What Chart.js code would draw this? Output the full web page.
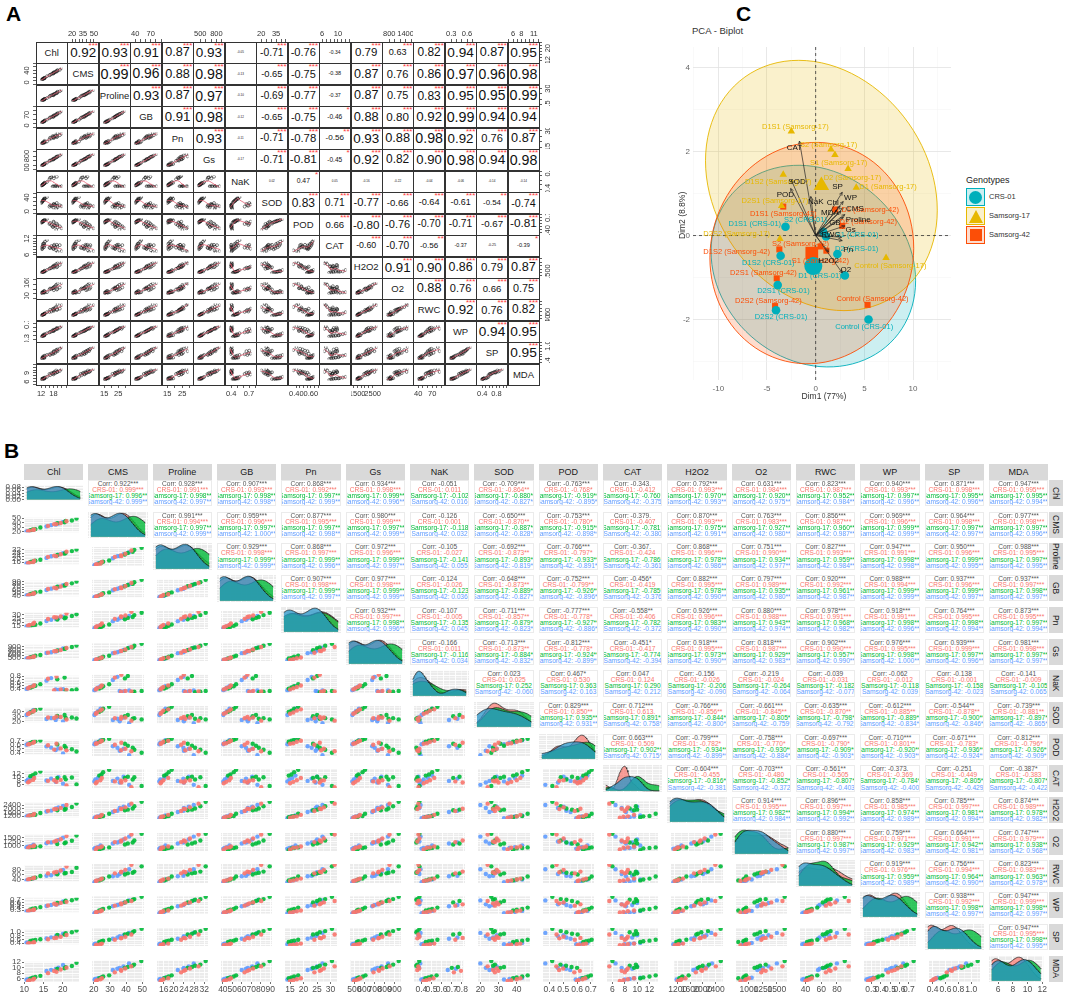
<!DOCTYPE html>
<html>
<head>
<meta charset="utf-8">
<title>Trait correlations and PCA biplot</title>
<script src="https://cdn.jsdelivr.net/npm/chart.js@4.4.1/dist/chart.umd.min.js"></script>
<style>
  html, body { margin: 0; padding: 0; background: #fff; }
  #page { position: relative; width: 1065px; height: 997px; overflow: hidden;
          font-family: "Liberation Sans", Arial, Helvetica, sans-serif; color: #222; }
  #page canvas { position: absolute; }
  .box { position: absolute; box-sizing: border-box; white-space: nowrap; line-height: 1; }
</style>
</head>
<body>
<div id="page"></div>
<script>
// ---- data ----
const traitNames = ['Chl', 'CMS', 'Proline', 'GB', 'Pn', 'Gs', 'NaK', 'SOD', 'POD', 'CAT', 'H2O2', 'O2', 'RWC', 'WP', 'SP', 'MDA'];
const genotypes = ['CRS-01', 'Samsorg-17', 'Samsorg-42'];
const treatments = ['Control', 'S1', 'S2', 'D1', 'D2', 'D1S1', 'D1S2', 'D2S1', 'D2S2'];

// samples: CRS-01 x 9 treatments, then Samsorg-17, then Samsorg-42
const chl     = [21.0, 18.4, 16.2, 19.5, 17.8, 12.6, 12.3, 11.4, 11.0,  23.6, 20.5, 18.6, 22.4, 20.8, 14.2, 12.9, 12.2, 11.6,  20.1, 17.0, 15.8, 18.9, 18.2, 12.4, 11.7, 11.0, 10.6];
const cms     = [43.2, 37.0, 33.0, 39.5, 36.8, 25.0, 24.1, 22.0, 21.3,  49.5, 41.0, 39.2, 45.0, 44.0, 29.5, 25.8, 24.8, 23.4,  41.8, 34.6, 31.8, 38.4, 36.0, 24.2, 22.6, 21.0, 20.4];
const proline = [29.8, 24.0, 22.9, 26.4, 24.6, 17.8, 15.9, 15.2, 14.8,  32.6, 27.2, 25.5, 30.5, 28.4, 19.2, 18.0, 17.1, 16.2,  27.9, 23.8, 21.6, 25.9, 24.0, 16.7, 16.2, 14.7, 14.3];
const gb      = [80.5, 66.0, 63.0, 72.0, 68.0, 48.5, 46.8, 43.5, 41.0,  89.5, 75.0, 71.5, 83.0, 78.0, 54.0, 51.5, 48.0, 45.5,  76.5, 64.5, 60.0, 71.0, 66.5, 47.0, 44.2, 42.0, 40.5];
const pn      = [31.5, 26.0, 24.0, 27.5, 26.5, 19.0, 17.5, 16.2, 15.0,  30.5, 25.0, 23.5, 28.0, 26.0, 18.0, 16.5, 15.5, 14.5,  27.0, 23.0, 21.5, 25.0, 24.5, 17.0, 15.8, 14.8, 14.0];
const gs      = [850, 745, 690, 780, 740, 560, 540, 515, 495,  940, 820, 765, 885, 840, 610, 585, 545, 530,  835, 705, 680, 770, 730, 550, 520, 500, 485];
const nak     = [0.37, 0.79, 0.72, 0.38, 0.36, 0.52, 0.48, 0.45, 0.42,  0.38, 0.76, 0.70, 0.36, 0.35, 0.55, 0.50, 0.47, 0.44,  0.39, 0.74, 0.66, 0.37, 0.38, 0.50, 0.46, 0.42, 0.40];
const sod     = [24, 30, 28, 29, 27, 42, 40, 37, 35,  26, 33, 31, 28, 27, 46, 43, 40, 38,  20, 27, 25, 29, 23, 43, 39, 36, 33];
const pod     = [0.45, 0.62, 0.58, 0.50, 0.47, 0.66, 0.64, 0.61, 0.60,  0.42, 0.56, 0.60, 0.48, 0.52, 0.70, 0.68, 0.66, 0.64,  0.37, 0.52, 0.55, 0.50, 0.46, 0.67, 0.63, 0.62, 0.59];
const cat     = [5.5, 7.5, 8.0, 8.5, 8.3, 9.5, 8.5, 7.8, 7.2,  6.0, 10.0, 9.5, 9.8, 8.8, 13.0, 12.0, 11.0, 10.5,  6.5, 9.2, 8.2, 10.0, 7.5, 10.5, 9.5, 8.8, 8.0];
const h2o2    = [2420, 1980, 1780, 2100, 1950, 1450, 1320, 1280, 1200,  2580, 1900, 1850, 2200, 2000, 1550, 1350, 1320, 1250,  2300, 1800, 1700, 2150, 2050, 1400, 1300, 1250, 1160];
const o2      = [1600, 1300, 1220, 1400, 1250, 1000, 950, 930, 850,  1640, 1150, 1100, 1300, 1200, 950, 920, 900, 810,  1500, 1200, 1150, 1350, 1250, 1050, 960, 920, 890];
const rwc     = [95, 72, 66, 78, 70, 48, 45, 42, 40,  90, 66, 62, 72, 68, 55, 48, 45, 42,  80, 58, 56, 70, 64, 45, 42, 38, 36];
const wp      = [0.62, 0.52, 0.48, 0.58, 0.55, 0.33, 0.31, 0.29, 0.27,  0.75, 0.62, 0.58, 0.68, 0.66, 0.42, 0.38, 0.36, 0.33,  0.64, 0.50, 0.46, 0.56, 0.52, 0.32, 0.29, 0.27, 0.25];
const sp      = [0.85, 0.70, 0.62, 0.75, 0.68, 0.45, 0.42, 0.40, 0.38,  1.10, 0.88, 0.85, 1.00, 0.95, 0.62, 0.58, 0.55, 0.52,  0.92, 0.72, 0.66, 0.82, 0.78, 0.48, 0.46, 0.44, 0.42];
const mda     = [10.0, 8.5, 8.0, 9.3, 8.8, 6.0, 5.7, 5.4, 5.1,  11.8, 9.8, 9.5, 10.6, 10.2, 7.0, 6.6, 6.3, 6.0,  11.0, 9.2, 8.8, 10.0, 9.5, 6.2, 6.0, 5.8, 5.6];

// overall Pearson r (upper triangle, row by row)
const corrUpper = [
  [0.922, 0.928, 0.907, 0.868, 0.934, -0.051, -0.709, -0.763, -0.343, 0.792, 0.631, 0.823, 0.940, 0.871, 0.947],
  [0.991, 0.959, 0.877, 0.980, -0.126, -0.650, -0.753, -0.379, 0.870, 0.763, 0.856, 0.969, 0.964, 0.977],
  [0.929, 0.868, 0.972, -0.105, -0.692, -0.766, -0.367, 0.868, 0.751, 0.827, 0.947, 0.950, 0.988],
  [0.907, 0.977, -0.124, -0.648, -0.752, -0.456, 0.882, 0.797, 0.920, 0.988, 0.937, 0.937],
  [0.932, -0.107, -0.711, -0.777, -0.558, 0.926, 0.880, 0.978, 0.918, 0.764, 0.873],
  [-0.166, -0.713, -0.812, -0.451, 0.918, 0.818, 0.902, 0.976, 0.939, 0.981],
  [0.023, 0.467, 0.047, -0.156, -0.219, -0.039, -0.062, -0.138, -0.141],
  [0.829, 0.712, -0.766, -0.661, -0.635, -0.612, -0.544, -0.739],
  [0.663, -0.799, -0.758, -0.697, -0.710, -0.671, -0.812],
  [-0.604, -0.703, -0.561, -0.373, -0.251, -0.387],
  [0.914, 0.896, 0.858, 0.785, 0.874],
  [0.880, 0.759, 0.664, 0.747],
  [0.919, 0.756, 0.823],
  [0.938, 0.947],
  [0.947]
];

// PCA scores (same sample order) and variable loadings
const pcaDim1 = [5.43, 1.07, 0.77, 3.00, 2.23, -3.10, -3.60, -3.90, -4.07,  7.23, 1.98, 1.57, 4.17, 3.33, -2.50, -3.33, -3.50, -3.67,  5.33, 1.10, 0.50, 2.00, 2.73, -3.33, -3.73, -4.00, -4.17];
const pcaDim2 = [-2.00, -0.02, 0.09, -0.95, -0.44, 0.21, -0.48, -1.18, -1.78,  -0.53, 1.92, 2.05, 1.14, 1.59, 2.48, 1.45, 0.71, -0.08,  -1.65, -0.36, -0.26, 0.62, 0.23, 0.69, -0.33, -1.02, -1.68];
const loadDim1 = [2.50, 2.83, 3.00, 2.83, 2.73, 3.00, -0.50, -2.50, -2.57, -1.67, 1.33, 2.73, 2.67, 2.83, 2.73, 2.60];
const loadDim2 = [0.70, 0.66, 0.50, 0.43, -0.12, 0.23, 0.93, 1.32, 1.12, 2.25, -0.39, -0.89, -0.04, 0.81, 1.03, 0.58];

// tick settings
const aTickStep = [2, 5, 5, 10, 5, 100, 0.1, 5, 0.05, 1, 250, 200, 10, 0.1, 0.1, 1];
const aLabelsH = [['12', '18'], ['20', '35', '50'], ['15', '25'], ['40', '70'], ['15', '25'], ['500', '800'], ['0.4', '0.7'], ['20', '35'],
                  ['0.40', '0.60'], ['6', '10'], ['1500', '2500'], ['800', '1400'], ['40', '70'], ['0.3', '0.6'], ['0.4', '0.8'], ['6', '8', '11']];
const aLabelsV = [['12', '20'], ['20', '40'], ['15', '30'], ['40', '70'], ['15', '30'], ['500', '800'], ['0.4', '0.8'], ['20', '40'],
                  ['0.40', '0.70'], ['6', '12'], ['1500'], ['800', '1600'], ['40', '60'], ['0.3', '0.7'], ['0.4', '1.0'], ['6', '9']];
const bTickStep = [5, 10, 4, 10, 5, 100, 0.1, 10, 0.1, 2, 400, 250, 20, 0.1, 0.2, 2];

// ---- layout / styles ----
const FONT = "'Liberation Sans', Arial, sans-serif";
const A = { x0: 36, y0: 42, cw: 31.45, ch: 21.45, ax: 17 };
const B = { x0: 24, y0: 480, px: 64.33, py: 31.7, w: 59.3, h: 26.4, yAxis: 24, xAxis: 14 };
const bColors = ['#F8766D', '#00BA38', '#619CFF'];
const densFill = ['rgba(248,118,109,0.7)', 'rgba(0,186,56,0.8)', 'rgba(40,150,200,0.75)'];
const pcaColors = ['#00AFBB', '#E7B800', '#FC4E07'];
const pcaShapes = ['circle', 'triangle', 'rect'];
const indLabelDx = [-4.3, 31, -17.7, -25, 19.3, -30.7, -12.3, 5.7, 5,  4.3, 3.7, -2.3, 31.7, 4.3, 4, -5, -6.7, -43.3,  5, -6, -20, 35, 26, 0, -42.7, -13.3, -6.7];
const indLabelDy = [7.3, -1.3, -11.7, 0, -4.7, -2.7, 7, 6, 6.7,  8, 7.7, -4.3, -0.3, 8.7, -4.3, 7.3, -5, -5,  -6, 10, -2.7, 0, -4, 7, 2.7, -5, -4.7];
const varLabelDx = [-7.3, 11.7, 13.3, -8.3, 6, 5.7, 5, 5.7, -5.3, -5, 0, 3.7, -11, 7.3, -4.7, -11];
const varLabelDy = [-3.3, 0.7, 5.7, 5, 9.3, 4.3, 5, 1.7, 6.7, 6.7, 9, -3.3, -2.3, -3.3, -5.7, 1.7];

const traits = [chl, cms, proline, gb, pn, gs, nak, sod, pod, cat, h2o2, o2, rwc, wp, sp, mda];
const NV = traits.length;
const groupIdx = g => treatments.map((t, k) => g * treatments.length + k);

Chart.defaults.animation = false;
Chart.defaults.responsive = false;
Chart.defaults.events = [];
Chart.defaults.plugins.legend.display = false;
Chart.defaults.plugins.tooltip.enabled = false;
Chart.defaults.font.family = FONT;

const page = document.getElementById('page');

function addCanvas(x, y, w, h) {
  const l = Math.round(x), t = Math.round(y);
  const cw = Math.round(x + w) - l, ch = Math.round(y + h) - t;
  const c = document.createElement('canvas');
  c.width = cw; c.height = ch;
  c.style.left = l + 'px'; c.style.top = t + 'px';
  c.style.width = cw + 'px'; c.style.height = ch + 'px';
  page.appendChild(c);
  return c;
}

function addBox(x, y, w, h, css, html) {
  const d = document.createElement('div');
  d.className = 'box';
  d.style.cssText = `left:${x}px;top:${y}px;width:${w}px;height:${h}px;` + (css || '');
  if (html != null) d.innerHTML = html;
  page.appendChild(d);
  return d;
}

// ---- small stats helpers ----
const mean = a => a.reduce((s, v) => s + v, 0) / a.length;
function sdev(a) { const m = mean(a); return Math.sqrt(a.reduce((s, v) => s + (v - m) ** 2, 0) / (a.length - 1)); }
function pearson(x, y) {
  const mx = mean(x), my = mean(y);
  let sxy = 0, sxx = 0, syy = 0;
  for (let k = 0; k < x.length; k++) { sxy += (x[k] - mx) * (y[k] - my); sxx += (x[k] - mx) ** 2; syy += (y[k] - my) ** 2; }
  return sxy / Math.sqrt(sxx * syy);
}
function padRange(a, f) { const mn = Math.min(...a), mx = Math.max(...a), p = (mx - mn) * f; return [mn - p, mx + p]; }
function quantile(sorted, p) {
  const h = (sorted.length - 1) * p, lo = Math.floor(h);
  const hi = Math.min(lo + 1, sorted.length - 1);
  return sorted[lo] + (h - lo) * (sorted[hi] - sorted[lo]);
}
function kde(vals, grid) {
  const s = [...vals].sort((a, b) => a - b);
  const iqr = quantile(s, 0.75) - quantile(s, 0.25);
  const bw = 0.9 * Math.min(sdev(vals), iqr / 1.34 || sdev(vals)) * Math.pow(vals.length, -0.2);
  return grid.map(g => ({ x: g, y: vals.reduce((t, v) => t + Math.exp(-0.5 * ((g - v) / bw) ** 2), 0) / (vals.length * bw * Math.sqrt(2 * Math.PI)) }));
}
function lowess(xs, ys, f) {
  const order = xs.map((_, k) => k).sort((a, b) => xs[a] - xs[b]);
  const x = order.map(k => xs[k]), y = order.map(k => ys[k]);
  const n = x.length, r = Math.ceil(f * n);
  return x.map(x0 => {
    const d = x.map(v => Math.abs(v - x0));
    const h = Math.max([...d].sort((a, b) => a - b)[r - 1], 1e-9) * 1.0001;
    let sw = 0, sx = 0, sy = 0, sxx = 0, sxy = 0;
    for (let k = 0; k < n; k++) {
      const u = d[k] / h;
      if (u >= 1) continue;
      const w = Math.pow(1 - u * u * u, 3);
      sw += w; sx += w * x[k]; sy += w * y[k]; sxx += w * x[k] * x[k]; sxy += w * x[k] * y[k];
    }
    const mx = sx / sw, my = sy / sw, vx = sxx / sw - mx * mx;
    const b = vx > 1e-12 ? (sxy / sw - mx * my) / vx : 0;
    return { x: x0, y: my + b * (x0 - mx) };
  });
}
// significance marks (critical |r| for p < .001, .01, .05, .1)
const critR = { 27: [0.597, 0.487, 0.381, 0.323], 9: [0.898, 0.798, 0.666, 0.582] };
function stars(r, n, withDot) {
  const a = Math.abs(r), c = critR[n];
  if (a >= c[0]) return '***';
  if (a >= c[1]) return '**';
  if (a >= c[2]) return '*';
  if (withDot && a >= c[3]) return '.';
  return '';
}
function stepTicks(min, max, step) {
  const out = [];
  const k0 = Math.ceil(min / step - 1e-9), k1 = Math.floor(max / step + 1e-9);
  for (let k = k0; k <= k1; k++) out.push({ value: +(k * step).toFixed(6) });
  return out;
}
const isMultiple = (v, step) => { const q = v / step; return Math.abs(q - Math.round(q)) < 1e-6; };
function niceStep(x) { const e = Math.pow(10, Math.floor(Math.log10(x))), f = x / e; return (f < 1.5 ? 1 : f < 3 ? 2 : f < 7 ? 5 : 10) * e; }
const decOf = step => step >= 1 ? 0 : Math.ceil(-Math.log10(step) - 1e-9);
function hexA(hex, a) {
  const n = parseInt(hex.slice(1), 16);
  return `rgba(${n >> 16},${(n >> 8) & 255},${n & 255},${a})`;
}

const greyPanel = {
  id: 'greyPanel',
  beforeDraw(chart) {
    const a = chart.chartArea, ctx = chart.ctx;
    ctx.save(); ctx.fillStyle = '#EBEBEB';
    ctx.fillRect(a.left, a.top, a.right - a.left, a.bottom - a.top);
    ctx.restore();
  }
};
function rotatedLabels(labels, side) {
  return {
    id: 'rotatedLabels',
    afterDraw(chart) {
      const s = chart.scales.y, ctx = chart.ctx;
      ctx.save();
      ctx.font = `7.5px ${FONT}`; ctx.fillStyle = '#333'; ctx.textAlign = 'center';
      for (const t of labels) {
        const py = s.getPixelForValue(parseFloat(t));
        ctx.save();
        ctx.translate(side === 'left' ? s.right - 5 : s.left + 5, py);
        ctx.rotate(-Math.PI / 2);
        ctx.textBaseline = side === 'left' ? 'bottom' : 'top';
        ctx.fillText(t, 0, 0);
        ctx.restore();
      }
      ctx.restore();
    }
  };
}

// ---- panel letters ----
addBox(6, 3, 24, 24, 'font-size:21px;font-weight:bold;color:#000;', 'A');
addBox(4, 440, 24, 24, 'font-size:21px;font-weight:bold;color:#000;', 'B');
addBox(736, 3, 24, 24, 'font-size:21px;font-weight:bold;color:#000;', 'C');

// ================= Panel A : scatterplot matrix =================
const rangeA = traits.map(t => padRange(t, 0.04));

function aScatter(i, j, x, y) {
  const cv = addCanvas(x, y, A.cw, A.ch);
  const xs = traits[j], ys = traits[i];
  new Chart(cv, {
    type: 'scatter',
    data: {
      datasets: [
        { type: 'line', data: lowess(xs, ys, 2 / 3), borderColor: 'rgba(228,90,110,0.85)', borderWidth: 0.9, pointRadius: 0, fill: false, tension: 0 },
        { data: xs.map((v, k) => ({ x: v, y: ys[k] })), pointRadius: 1.45, pointBorderWidth: 0.55,
          pointBorderColor: '#1a1a1a', pointBackgroundColor: 'rgba(0,0,0,0)' }
      ]
    },
    options: {
      layout: { padding: 0 },
      scales: {
        x: { display: false, min: rangeA[j][0], max: rangeA[j][1] },
        y: { display: false, min: rangeA[i][0], max: rangeA[i][1] }
      }
    }
  });
}

function aAxis(side, v, x, y, w, h) {
  const cv = addCanvas(x, y, w, h);
  const horiz = side === 'top' || side === 'bottom';
  const [mn, mx] = rangeA[v];
  const labels = horiz ? aLabelsH[v] : aLabelsV[v];
  const step = aTickStep[v];
  const shown = {
    position: side, min: mn, max: mx,
    afterBuildTicks: s => { s.ticks = stepTicks(mn, mx, step); },
    afterFit: s => { if (horiz) s.height = A.ax; else s.width = A.ax; },
    border: { display: false },
    grid: { drawOnChartArea: false, drawTicks: true, tickLength: 3, tickColor: '#333', tickWidth: 0.8 },
    ticks: {
      display: horiz, autoSkip: false, maxRotation: 0, minRotation: 0, padding: 1, color: '#333', font: { size: 7.5 },
      callback: val => labels.find(l => Math.abs(parseFloat(l) - val) < step * 0.01) || ''
    }
  };
  const hidden = { display: false, min: 0, max: 1 };
  new Chart(cv, {
    type: 'scatter',
    data: { datasets: [] },
    options: { layout: { padding: 0 }, scales: horiz ? { x: shown, y: hidden } : { x: hidden, y: shown } },
    plugins: horiz ? [] : [rotatedLabels(labels, side)]
  });
}

for (let i = 0; i < NV; i++) {
  for (let j = 0; j < NV; j++) {
    const x = A.x0 + j * A.cw, y = A.y0 + i * A.ch;
    if (i > j) {
      aScatter(i, j, x, y);
    } else if (i === j) {
      addBox(x, y, A.cw, A.ch, 'display:flex;align-items:center;justify-content:center;font-size:9.5px;color:#222;', traitNames[i]);
    } else {
      const r = corrUpper[i][j - i - 1];
      const size = Math.max(3, 14.5 * Math.abs(r));
      addBox(x, y, A.cw, A.ch, `display:flex;align-items:center;justify-content:center;font-size:${size.toFixed(1)}px;color:#111;`, r.toFixed(2));
      const st = stars(r, 27, false);
      if (st) addBox(x + A.cw - 16, y, 15, 8, 'font-size:8px;line-height:8px;color:#ff3b3b;text-align:right;', st);
    }
  }
}
for (let i = 0; i < NV; i++) {
  for (let j = 0; j < NV; j++) {
    addBox(A.x0 + j * A.cw, A.y0 + i * A.ch, A.cw + 0.6, A.ch + 0.6, 'border:1px solid #333;');
  }
}
for (let j = 0; j < NV; j++) {
  const x = A.x0 + j * A.cw;
  if (j % 2 === 1) aAxis('top', j, x, A.y0 - A.ax, A.cw, A.ch + A.ax);
  else aAxis('bottom', j, x, A.y0 + 15 * A.ch, A.cw, A.ch + A.ax);
}
for (let i = 0; i < NV; i++) {
  const y = A.y0 + i * A.ch;
  if (i % 2 === 1) aAxis('left', i, A.x0 - A.ax, y, A.cw + A.ax, A.ch);
  else aAxis('right', i, A.x0 + 15 * A.cw, y, A.cw + A.ax, A.ch);
}

// ================= Panel B : ggpairs by genotype =================
const rangeB = traits.map(t => padRange(t, 0.05));
const densities = traits.map(t => {
  const mn = Math.min(...t), mx = Math.max(...t);
  const grid = Array.from({ length: 90 }, (_, k) => mn + (mx - mn) * k / 89);
  return genotypes.map((g, gi) => kde(groupIdx(gi).map(k => t[k]), grid));
});

function bAxis(axis, min, max, step, show) {
  const dec = decOf(step);
  return {
    position: axis === 'x' ? 'bottom' : 'left', min, max,
    afterBuildTicks: s => { s.ticks = stepTicks(min, max, step / 2); },
    afterFit: s => { if (axis === 'x') s.height = show ? B.xAxis : 0; else s.width = show ? B.yAxis : 0; },
    border: { display: false },
    grid: {
      color: '#ffffff',
      lineWidth: c => (c.tick && isMultiple(c.tick.value, step)) ? 0.9 : 0.45,
      drawTicks: show, tickLength: 2, tickWidth: 0.7,
      tickColor: c => (c.tick && isMultiple(c.tick.value, step)) ? '#333' : 'rgba(0,0,0,0)'
    },
    ticks: {
      display: show, autoSkip: false, maxRotation: 0, minRotation: 0, padding: 1,
      color: '#4D4D4D', font: { size: axis === 'x' ? 8.5 : 8 },
      callback: v => isMultiple(v, step) ? v.toFixed(dec) : ''
    }
  };
}

function bChart(i, j) {
  const left = j === 0, bottom = i === NV - 1;
  const x = B.x0 + j * B.px - (left ? B.yAxis : 0);
  const y = B.y0 + i * B.py;
  const cv = addCanvas(x, y, B.w + (left ? B.yAxis : 0), B.h + (bottom ? B.xAxis : 0));
  let datasets, yAxis;
  if (i === j) {
    const dens = densities[j];
    const top = Math.max(...dens.map(d => Math.max(...d.map(p => p.y))));
    datasets = dens.map((d, gi) => ({
      type: 'line', data: d, fill: 'origin', backgroundColor: densFill[gi],
      borderColor: '#111', borderWidth: 0.6, pointRadius: 0, tension: 0, order: 3 - gi
    }));
    yAxis = bAxis('y', -0.05 * top, 1.05 * top, niceStep(top / 4), left);
  } else {
    datasets = genotypes.map((g, gi) => ({
      data: groupIdx(gi).map(k => ({ x: traits[j][k], y: traits[i][k] })),
      pointRadius: 2.2, pointBorderWidth: 0, pointBackgroundColor: hexA(bColors[gi], 0.9)
    }));
    yAxis = bAxis('y', rangeB[i][0], rangeB[i][1], bTickStep[i], left);
  }
  new Chart(cv, {
    type: 'scatter',
    data: { datasets },
    options: {
      layout: { padding: 0 },
      scales: { x: bAxis('x', rangeB[j][0], rangeB[j][1], bTickStep[j], bottom), y: yAxis }
    },
    plugins: [greyPanel]
  });
}

for (let j = 0; j < NV; j++) {
  addBox(B.x0 + j * B.px, 464, B.w, 16,
    'background:#D9D9D9;color:#1A1A1A;font-size:9px;display:flex;align-items:center;justify-content:center;', traitNames[j]);
}
for (let i = 0; i < NV; i++) {
  addBox(1049, B.y0 + i * B.py, 14, B.h,
    'background:#D9D9D9;color:#1A1A1A;font-size:8.5px;display:flex;align-items:center;justify-content:center;writing-mode:vertical-rl;overflow:visible;', traitNames[i]);
}
for (let i = 0; i < NV; i++) {
  for (let j = 0; j < NV; j++) {
    if (i >= j) { bChart(i, j); continue; }
    const r = corrUpper[i][j - i - 1];
    const lines = [`<div style="color:#555">Corr: ${r.toFixed(3)}${stars(r, 27, true)}</div>`];
    genotypes.forEach((g, gi) => {
      const idx = groupIdx(gi);
      const rg = pearson(idx.map(k => traits[j][k]), idx.map(k => traits[i][k]));
      lines.push(`<div style="color:${bColors[gi]}">${g}: ${rg.toFixed(3)}${stars(rg, 9, true)}</div>`);
    });
    addBox(B.x0 + j * B.px, B.y0 + i * B.py, B.w, B.h,
      'background:#fff;border:1px solid #EBEBEB;overflow:hidden;display:flex;flex-direction:column;justify-content:center;align-items:center;font-size:6.6px;line-height:6.1px;',
      lines.join(''));
  }
}

// ================= Panel C : PCA biplot =================
const F95_2_8 = 4.459; // qf(0.95, 2, 8): 9 samples per genotype
function ellipsePath(xs, ys) {
  const n = xs.length, mx = mean(xs), my = mean(ys);
  let sxx = 0, sxy = 0, syy = 0;
  for (let k = 0; k < n; k++) { const dx = xs[k] - mx, dy = ys[k] - my; sxx += dx * dx; sxy += dx * dy; syy += dy * dy; }
  sxx /= n - 1; sxy /= n - 1; syy /= n - 1;
  const r11 = Math.sqrt(sxx), r12 = sxy / r11, r22 = Math.sqrt(Math.max(syy - r12 * r12, 0));
  const rad = Math.sqrt(2 * F95_2_8);
  const out = [];
  for (let t = 0; t <= 96; t++) {
    const a = t / 96 * 2 * Math.PI;
    out.push({ x: mx + rad * Math.cos(a) * r11, y: my + rad * (Math.cos(a) * r12 + Math.sin(a) * r22) });
  }
  return out;
}

const groupScores = genotypes.map((g, gi) => {
  const idx = groupIdx(gi);
  return { xs: idx.map(k => pcaDim1[k]), ys: idx.map(k => pcaDim2[k]) };
});
const ellipses = groupScores.map(s => ellipsePath(s.xs, s.ys));
const C_X = [-12.6, 13.9], C_Y = [-3.44, 4.49];

const biplot = {
  id: 'biplot',
  beforeDatasetsDraw(chart) {
    const { ctx, chartArea: a, scales: { x, y } } = chart;
    ctx.save();
    ctx.beginPath(); ctx.rect(a.left, a.top, a.right - a.left, a.bottom - a.top); ctx.clip();
    ellipses.forEach((path, gi) => {
      ctx.beginPath();
      path.forEach((p, k) => {
        const X = x.getPixelForValue(p.x), Y = y.getPixelForValue(p.y);
        if (k) ctx.lineTo(X, Y); else ctx.moveTo(X, Y);
      });
      ctx.closePath();
      ctx.fillStyle = hexA(pcaColors[gi], 0.2); ctx.fill();
      ctx.strokeStyle = pcaColors[gi]; ctx.lineWidth = 0.9; ctx.stroke();
    });
    const x0 = x.getPixelForValue(0), y0 = y.getPixelForValue(0);
    ctx.setLineDash([3, 3]); ctx.strokeStyle = '#333'; ctx.lineWidth = 0.8;
    ctx.beginPath();
    ctx.moveTo(x0, a.top); ctx.lineTo(x0, a.bottom);
    ctx.moveTo(a.left, y0); ctx.lineTo(a.right, y0);
    ctx.stroke();
    ctx.restore();
  },
  afterDatasetsDraw(chart) {
    const { ctx, scales: { x, y } } = chart;
    const ox = x.getPixelForValue(0), oy = y.getPixelForValue(0);
    ctx.save();
    ctx.strokeStyle = '#222'; ctx.lineWidth = 0.7;
    traitNames.forEach((nm, v) => {
      const tx = x.getPixelForValue(loadDim1[v]), ty = y.getPixelForValue(loadDim2[v]);
      const ang = Math.atan2(ty - oy, tx - ox);
      ctx.beginPath();
      ctx.moveTo(ox, oy); ctx.lineTo(tx, ty);
      ctx.moveTo(tx, ty); ctx.lineTo(tx - 3.5 * Math.cos(ang - 0.45), ty - 3.5 * Math.sin(ang - 0.45));
      ctx.moveTo(tx, ty); ctx.lineTo(tx - 3.5 * Math.cos(ang + 0.45), ty - 3.5 * Math.sin(ang + 0.45));
      ctx.stroke();
    });
    ctx.font = `7.5px ${FONT}`; ctx.textAlign = 'center'; ctx.textBaseline = 'middle';
    pcaDim1.forEach((d1, k) => {
      const g = Math.floor(k / treatments.length);
      ctx.fillStyle = pcaColors[g];
      ctx.fillText(`${treatments[k % treatments.length]} (${genotypes[g]})`,
        x.getPixelForValue(d1) + indLabelDx[k], y.getPixelForValue(pcaDim2[k]) + indLabelDy[k]);
    });
    ctx.font = `8px ${FONT}`; ctx.fillStyle = '#111';
    traitNames.forEach((nm, v) => {
      ctx.fillText(nm, x.getPixelForValue(loadDim1[v]) + varLabelDx[v], y.getPixelForValue(loadDim2[v]) + varLabelDy[v]);
    });
    ctx.restore();
  }
};

function cGrid(major) {
  return {
    color: c => (c.tick && isMultiple(c.tick.value, major)) ? '#E2E2E2' : '#F2F2F2',
    lineWidth: c => (c.tick && isMultiple(c.tick.value, major)) ? 0.8 : 0.5,
    drawTicks: false
  };
}
const cCanvas = addCanvas(680, 38, 280, 358);
new Chart(cCanvas, {
  type: 'scatter',
  data: {
    datasets: [
      ...groupScores.map((s, gi) => ({
        data: [{ x: mean(s.xs), y: mean(s.ys) }], pointStyle: pcaShapes[gi], pointRadius: 9,
        pointBackgroundColor: pcaColors[gi], pointBorderColor: pcaColors[gi], pointBorderWidth: 0
      })),
      ...groupScores.map((s, gi) => ({
        data: s.xs.map((v, k) => ({ x: v, y: s.ys[k] })), pointStyle: pcaShapes[gi], pointRadius: 4.3,
        pointBackgroundColor: pcaColors[gi], pointBorderColor: pcaColors[gi], pointBorderWidth: 0
      }))
    ]
  },
  options: {
    layout: { padding: { right: 3, top: 0 } },
    scales: {
      x: {
        min: C_X[0], max: C_X[1],
        afterBuildTicks: s => { s.ticks = stepTicks(C_X[0], C_X[1], 2.5); },
        afterFit: s => { s.height = 16; },
        border: { display: false }, grid: cGrid(5),
        ticks: { autoSkip: false, maxRotation: 0, padding: 4, color: '#666', font: { size: 8 },
                 callback: v => isMultiple(v, 5) ? String(v) : '' }
      },
      y: {
        min: C_Y[0], max: C_Y[1],
        afterBuildTicks: s => { s.ticks = stepTicks(C_Y[0], C_Y[1], 1); },
        afterFit: s => { s.width = 13; },
        border: { display: false }, grid: cGrid(2),
        ticks: { autoSkip: false, padding: 3, color: '#666', font: { size: 8 },
                 callback: v => isMultiple(v, 2) ? String(v) : '' }
      }
    }
  },
  plugins: [biplot]
});

addBox(692, 26, 80, 10, 'font-size:9.5px;color:#333;', 'PCA - Biplot');
addBox(784, 392, 80, 10, 'font-size:8.5px;color:#333;text-align:center;', 'Dim1 (77%)');
addBox(678, 185, 10, 60, 'font-size:8.5px;color:#333;writing-mode:vertical-rl;transform:rotate(180deg);text-align:center;', 'Dim2 (8.8%)');

// legend
addBox(966, 176, 60, 10, 'font-size:9px;color:#222;', 'Genotypes');
const keyMarks = [
  'width:13px;height:13px;border-radius:50%;',
  'width:0;height:0;border-left:7.5px solid transparent;border-right:7.5px solid transparent;border-bottom:13px solid COLOR;background:none;',
  'width:12px;height:12px;'
];
genotypes.forEach((g, gi) => {
  const top = 188 + gi * 19;
  const key = addBox(966, top, 19, 18,
    `background:${hexA(pcaColors[gi], 0.2)};border:1px solid ${pcaColors[gi]};display:flex;align-items:center;justify-content:center;`);
  const mark = document.createElement('div');
  mark.style.cssText = keyMarks[gi].replace('COLOR', pcaColors[gi]) + (gi === 1 ? '' : `background:${pcaColors[gi]};`);
  key.appendChild(mark);
  addBox(989, top + 5, 60, 9, 'font-size:7.5px;color:#333;', g);
});
</script>
</body>
</html>
